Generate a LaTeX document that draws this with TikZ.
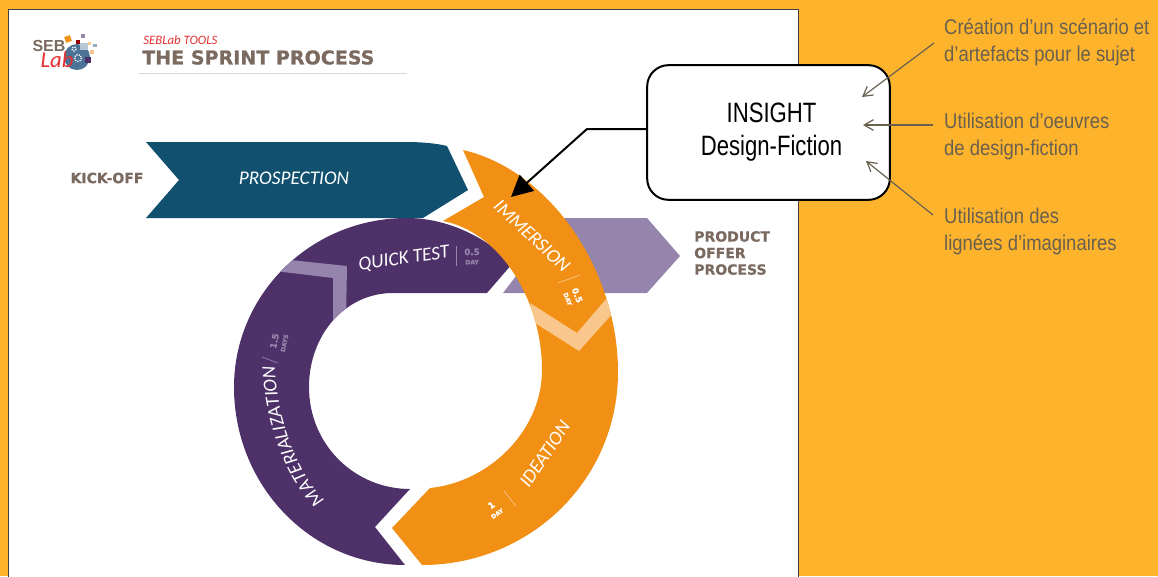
\documentclass[tikz,border=0pt]{standalone}
\usepackage{fontspec}
\setmainfont{Liberation Sans}
\newfontfamily\blackfont[FakeBold=0.6]{DejaVu Sans Bold}
\newfontfamily\handfont{Carlito}
\usetikzlibrary{arrows.meta,decorations.text}
\definecolor{bgorange}{HTML}{FDB32B}
\definecolor{sprintteal}{HTML}{11506E}
\definecolor{sprintpurple}{HTML}{4F316A}
\definecolor{sprintorange}{HTML}{F29015}
\definecolor{sprintlilac}{HTML}{9584AB}
\definecolor{paleorange}{HTML}{F9C78C}
\definecolor{titlegrey}{HTML}{7A6A60}
\definecolor{notegrey}{HTML}{6A6050}
\definecolor{logoblue}{HTML}{4A7396}
\definecolor{logored}{HTML}{E53030}
\newcommand{\purplepart}{(405, 565) .. controls (310, 565) and (234, 485) .. (234, 387)
    .. controls (234, 295) and (310, 218) .. (407, 218)
    .. controls (450, 218) and (490, 240) .. (512, 264)
    -- (487, 293) -- (393, 293)
    .. controls (345, 293) and (309, 335) .. (309, 387)
    .. controls (309, 445) and (355, 489) .. (410, 489)
    -- (375, 527) -- cycle}
\newcommand{\orangepart}{(422, 565) .. controls (530, 565) and (618, 480) .. (618, 372)
    .. controls (618, 270) and (550, 170) .. (463, 150)
    -- (484, 197) -- (443, 221)
    .. controls (500, 232) and (542, 300) .. (542, 370)
    .. controls (542, 430) and (490, 482) .. (430, 488)
    -- (392, 528) -- cycle}
\newcommand{\narrowline}[1]{\hspace*{4.5pt}\scalebox{0.79}[1]{#1}}
\tikzset{
  heading/.style={font=\blackfont\fontsize{10.5}{12.4}\selectfont, text=titlegrey, align=left},
  phase/.style={font=\handfont\itshape\fontsize{14.5}{16}\selectfont, text=white},
  amount/.style={font=\blackfont\fontsize{6.5}{6.5}\selectfont, align=center, inner sep=0pt},
  note/.style={font=\fontsize{16}{20.5}\selectfont, text=notegrey, align=left, anchor=west, inner sep=0pt, xscale=0.865},
  noteline/.style={-{Straight Barb[length=7pt,width=8pt]}, draw=notegrey, line width=0.9pt},
  gear/.style={draw=white, line width=1pt, dash pattern=on 0.9pt off 0.9pt},
}
\begin{document}
\begin{tikzpicture}[x=0.75pt, y=-0.75pt]
  \useasboundingbox (0, 0) rectangle (1158, 576);
  \fill [bgorange] (0, 0) rectangle (1158, 576);
  \fill [white, draw=black!75, line width=1pt] (8.5, 9.5) -- (798.5, 9.5) -- (798.5, 580) -- (8.5, 580) -- cycle;
  % logo
  \fill [logoblue] (77, 57) circle [radius = 13];
  \fill [sprintorange, rotate around={20:(68, 39)}] (65, 36) rectangle (71, 42);
  \fill [red!60!black] (76, 40) rectangle (80, 44);
  \fill [sprintlilac] (81, 34) rectangle (85, 38);
  \fill [sprintpurple] (85, 57) rectangle (91, 63);
  \fill [paleorange] (90, 50) rectangle (94, 54);
  \fill [paleorange] (88, 42) rectangle (91, 45);
  \fill [logoblue!60] (93, 44) rectangle (97, 47);
  \fill [logoblue!40] (80, 43) rectangle (88, 50);
  \draw [gear] (78, 58) circle [radius = 3.5];
  \draw [gear] (74, 49) circle [radius = 2];
  \node (seb) [font=\bfseries\fontsize{12}{12}\selectfont, text=titlegrey, inner sep=0pt] at (49, 46) {SEB};
  \node (lab) [font=\handfont\itshape\fontsize{17}{17}\selectfont, text=logored, inner sep=0pt] at (57, 60) {Lab};
  % title
  \node (tools) [font=\handfont\itshape\fontsize{9.6}{9.6}\selectfont, text=logored, anchor=west, inner sep=0pt] at (143, 40.5) {SEBLab TOOLS};
  \node (title) [font=\blackfont\fontsize{14.3}{14.3}\selectfont, text=titlegrey, anchor=west, inner sep=0pt] at (142, 57.5) {THE SPRINT PROCESS};
  \draw [black!15, line width=0.6pt] (139, 73) -- (407, 73);
  % arrows behind the ring
  \fill [sprintteal] (146, 142) -- (405, 142) .. controls (420, 142) and (435, 143) .. (447, 146) -- (468, 190) -- (423, 218) -- (146, 218) -- (179, 180) -- cycle;
  \fill [sprintlilac] (503, 293) -- (530, 258) -- (560, 218) -- (647, 218) -- (680, 256) -- (647, 293) -- cycle;
  % purple part
  \fill [sprintpurple] \purplepart;
  \begin{scope}
    \clip \purplepart;
    \fill [sprintlilac] (290, 260) -- (347, 266) -- (346, 320) -- (333, 335) -- (333, 278) -- (275, 271) -- cycle;
  \end{scope}
  % orange part
  \fill [sprintorange] \orangepart;
  \begin{scope}
    \clip \orangepart;
    \fill [paleorange] (530, 303) -- (577, 333) -- (612, 292) -- (622, 303) -- (579, 351) -- (535, 323) -- cycle;
  \end{scope}
  % labels
  \node (kickoff) [heading] at (107, 178) {KICK-OFF};
  \node (prospection) [phase] at (294, 178) {PROSPECTION};
  \node (offer) [heading, anchor=west, inner sep=0pt] at (694, 253) {PRODUCT\\OFFER\\PROCESS};
  \node (quick) [phase, rotate=8] at (404, 259) {QUICK TEST};
  \node (quickdays) [amount, text=sprintlilac] at (472, 256.5) {0.5\\[0.5pt]{\fontsize{4.5}{4.5}\selectfont DAY}};
  \draw [sprintlilac, line width=0.5pt] (456, 246) -- (456, 266);
  \node (immersion) [phase, rotate=-43] at (532, 236) {IMMERSION};
  \node (immdays) [amount, text=white, rotate=-68] at (573, 297) {0.5\\[0.5pt]{\fontsize{4.5}{4.5}\selectfont DAY}};
  \draw [paleorange, line width=0.5pt] (558, 283) -- (580, 275);
  \node (ideation) [phase, rotate=56] at (545, 454) {IDEATION};
  \node (ideadays) [amount, text=white, rotate=35] at (494, 509) {1\\[0.5pt]{\fontsize{4.5}{4.5}\selectfont DAY}};
  \draw [paleorange, line width=0.5pt] (504, 491) -- (516, 506);
  \path [decorate, decoration={text along path, text align=center, text={|\handfont\itshape\fontsize{14.5}{16}\selectfont\color{white}|MATERIALIZATION}}] (322, 497) .. controls (296, 470) and (278, 420) .. (275, 370);
  \node (matdays) [amount, text=sprintlilac, rotate=78] at (279, 342) {1.5\\[0.5pt]{\fontsize{4.5}{4.5}\selectfont DAYS}};
  \draw [sprintlilac, line width=0.5pt] (262, 357) -- (278, 363);
  % insight box
  \node (insight) [draw=black, fill=white, line width=1.5pt, rounded corners=16pt, minimum width=182pt, minimum height=101pt, align=center, font=\fontsize{21}{24.7}\selectfont] at (768.5, 132.5) {\narrowline{INSIGHT}\\\narrowline{Design-Fiction}};
  \coordinate (bend) at (587, 129);
  \coordinate (target) at (511, 197);
  \draw [black, line width=1.5pt, -{Triangle[length=16pt,width=16pt]}] (insight.west |- bend) -- (bend) -- (target);
  % notes
  \node (scenario) [note] at (944, 42.5) {Création d’un scénario et\\d’artefacts pour le sujet};
  \node (oeuvres) [note] at (944, 136.5) {Utilisation d’oeuvres\\de design-fiction};
  \node (lignees) [note] at (944, 231.5) {Utilisation des\\lignées d’imaginaires};
  \coordinate (scenarioend) at (862, 97);
  \coordinate (oeuvresend) at (863, 125);
  \coordinate (ligneesend) at (866, 161);
  \draw [noteline] (934, 43) -- (scenarioend);
  \draw [noteline] (933, 125) -- (oeuvresend);
  \draw [noteline] (933, 215) -- (ligneesend);
\end{tikzpicture}
\end{document}
